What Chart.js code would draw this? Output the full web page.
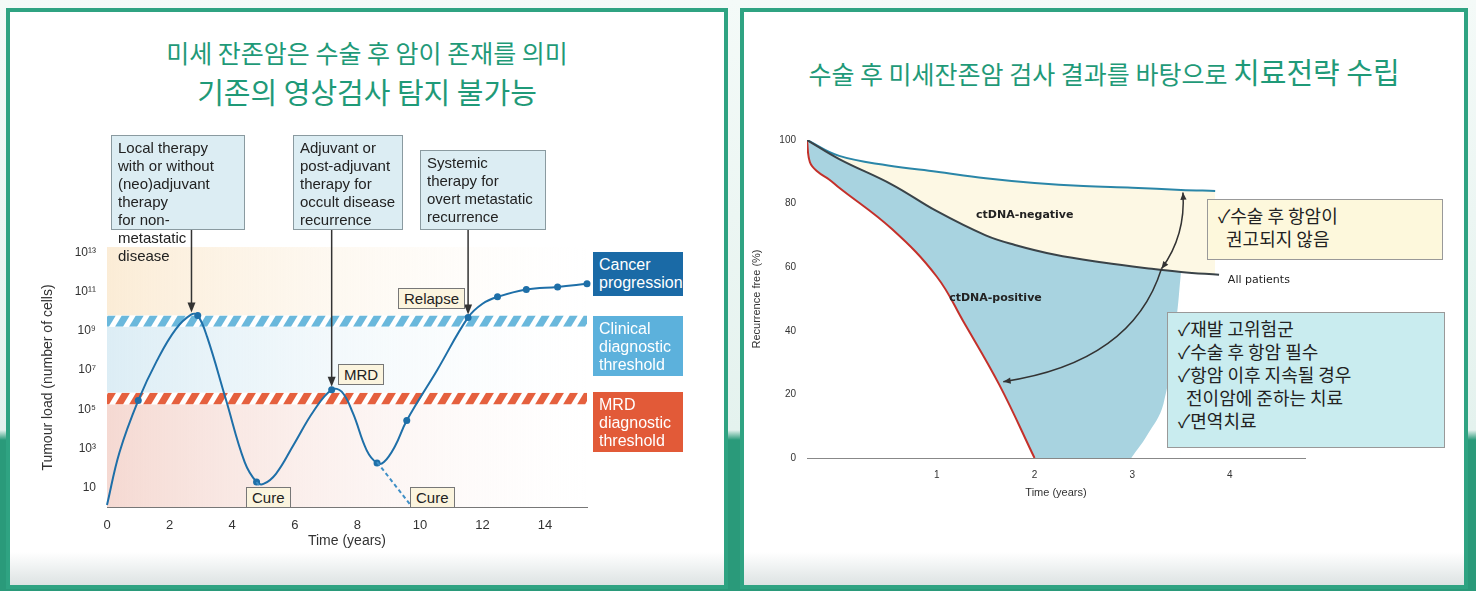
<!DOCTYPE html>
<html><head><meta charset="utf-8">
<script src="https://cdn.jsdelivr.net/npm/chart.js@4"></script>
<style>
body{margin:0;width:1476px;height:591px;position:relative;overflow:hidden;font-family:"Liberation Sans Narrow","Liberation Sans",Arial,sans-serif;
 background:linear-gradient(#f4faf8 0,#e4f2ee 430px,#2a9a7a 440px,#2a9a7a 591px);}
.panel{position:absolute;top:8px;height:573px;border:4px solid #2fa382;background:linear-gradient(#fff 0,#fff 540px,#dde3e3 573px);}
.title{position:absolute;color:#1f9a78;font-family:"Noto Sans CJK KR";text-align:center;white-space:nowrap}
.box{position:absolute;border:1px solid #8a9aa0;background:#dcedf3;font-size:15px;line-height:18px;color:#222;padding:3px 6px;box-sizing:border-box}
.lab{position:absolute;border:1px solid #777;background:#fbf4de;font-size:15px;color:#222;padding:1px 5px;box-sizing:border-box}
.side{position:absolute;color:#fff;font-size:16px;line-height:18px;padding:4px 6px;box-sizing:border-box}
.kbox{position:absolute;border:1px solid #999;font-family:"Noto Sans CJK KR";font-size:18px;line-height:23px;color:#222;box-sizing:border-box;padding:4px 10px}
canvas{position:absolute}
</style></head><body>
<div class="panel" style="left:6px;width:714px"></div>
<div class="panel" style="left:740px;width:720px"></div>
<div class="title" style="left:6px;width:722px;top:34px;font-size:25px">미세 잔존암은 수술 후 암이 존재를 의미</div>
<div class="title" style="left:6px;width:722px;top:70px;font-size:29px">기존의 영상검사 탐지 불가능</div>
<div class="title" style="left:740px;width:728px;top:50px;font-size:25px">수술 후 미세잔존암 검사 결과를 바탕으로 <span style="font-size:29px">치료전략 수립</span></div>

<canvas id="c1" width="660" height="440" style="left:40px;top:130px;width:660px;height:440px"></canvas>
<canvas id="c2" width="560" height="380" style="left:750px;top:120px;width:560px;height:380px"></canvas>

<div class="box" style="left:111px;top:135px;width:134px;height:95px">Local therapy<br>with or without<br>(neo)adjuvant therapy<br>for non-metastatic<br>disease</div>
<div class="box" style="left:293px;top:135px;width:110px;height:95px">Adjuvant or<br>post-adjuvant<br>therapy for<br>occult disease<br>recurrence</div>
<div class="box" style="left:420px;top:150px;width:126px;height:80px">Systemic<br>therapy for<br>overt metastatic<br>recurrence</div>
<div class="lab" style="left:398px;top:288px">Relapse</div>
<div class="lab" style="left:338px;top:364px">MRD</div>
<div class="lab" style="left:246px;top:487px">Cure</div>
<div class="lab" style="left:410px;top:487px">Cure</div>
<div class="side" style="left:593px;top:252px;width:90px;height:44px;background:#1a6aa6">Cancer<br>progression</div>
<div class="side" style="left:593px;top:316px;width:90px;height:60px;background:#5cb1dc">Clinical<br>diagnostic<br>threshold</div>
<div class="side" style="left:593px;top:392px;width:90px;height:60px;background:#e25a38">MRD<br>diagnostic<br>threshold</div>

<div class="kbox" style="left:1207px;top:199px;width:236px;height:61px;background:#fdf8dc">✓수술 후 항암이<br>&nbsp;&nbsp;권고되지 않음</div>
<div class="kbox" style="left:1167px;top:312px;width:278px;height:136px;background:#c9ecef">✓재발 고위험군<br>✓수술 후 항암 필수<br>✓항암 이후 지속될 경우<br>&nbsp;&nbsp;전이암에 준하는 치료<br>✓면역치료</div>

<script>
// left chart: tumour load (log10 cells) over time
const loadTime = [0, 0.4, 1.0, 1.6, 2.2, 2.7, 2.9, 3.2, 3.8, 4.4, 4.78, 5.0, 5.4, 5.97, 6.6, 7.18, 7.5, 7.86, 8.3, 8.63, 8.85, 9.2, 9.58, 10.55, 11.54, 12.0, 12.48, 13.4, 14.4, 15.34];
const loadLog  = [0.1, 2.8, 5.45, 7.5, 9.1, 9.85, 9.8, 8.7, 5.5, 2.3, 1.28, 1.18, 1.7, 3.2, 4.9, 6.0, 5.9, 4.8, 2.9, 2.25, 2.3, 3.1, 4.43, 7.0, 9.7, 10.4, 10.75, 11.13, 11.26, 11.42];
const markerIdx = [2, 6, 10, 15, 19, 22, 24, 26, 27, 28, 29];
const cure1 = [[4.78, 1.28], [5.3, 0.1]];
const cure2 = [[8.63, 2.3], [9.7, 0.1]];
const xTicks = [0, 2, 4, 6, 8, 10, 12, 14];
const yTicksLog = [1, 3, 5, 7, 9, 11, 13];
const sup = {0:'⁰',1:'¹',2:'²',3:'³',4:'⁴',5:'⁵',6:'⁶',7:'⁷',8:'⁸',9:'⁹'};

// right chart: recurrence free (%)
const negT = [-0.33, 0, 0.5, 1, 1.5, 2, 2.5, 3, 3.5, 3.85];
const negV = [100, 95, 92, 90, 88, 86.5, 85.5, 85, 84.3, 84];
const allT = [-0.33, 0, 0.54, 1, 1.5, 1.8, 2.2, 2.7, 3.2, 3.5, 3.89];
const allV = [100, 94, 86, 77.6, 70, 67, 64, 61.5, 59.5, 58.5, 57.6];
const posT = [-0.33, -0.3, -0.22, -0.1, 0, 0.54, 1, 1.27, 1.64, 2];
const posV = [100, 93, 90, 87.5, 85, 72, 57, 43, 23, 0];
const edgeT = [2.99, 3.15, 3.32, 3.45, 3.5];
const edgeV = [0, 7, 17, 43, 58.5];

const lineBlue = '#1e6fa8';
const xy = (t, v) => t.map((x, i) => ({x, y: v[i]}));

const bgPlugin = {
  id: 'bgPlugin',
  beforeDatasetsDraw(chart) {
    const {ctx, chartArea: a, scales: {y}} = chart;
    const band = (lo, hi, col) => {
      const g = ctx.createLinearGradient(a.left, 0, a.right, 0);
      g.addColorStop(0, col); g.addColorStop(1, 'rgba(255,255,255,0.3)');
      ctx.fillStyle = g;
      ctx.fillRect(a.left, y.getPixelForValue(hi), a.right - a.left, y.getPixelForValue(lo) - y.getPixelForValue(hi));
    };
    ctx.save();
    band(9.8, 13.3, '#fbecd6');
    band(5.85, 9.22, '#dcedf5');
    band(0, 5.25, '#f5d9d2');
    const hatch = (lo, hi, col) => {
      const t = y.getPixelForValue(hi), b = y.getPixelForValue(lo);
      ctx.save();
      ctx.beginPath(); ctx.rect(a.left, t, a.right - a.left, b - t); ctx.clip();
      ctx.fillStyle = '#fff'; ctx.fillRect(a.left, t, a.right - a.left, b - t);
      ctx.fillStyle = col;
      for (let x = a.left - 20; x < a.right + 20; x += 14) {
        ctx.beginPath();
        ctx.moveTo(x, b); ctx.lineTo(x + 8, b); ctx.lineTo(x + 8 + (b - t) * 0.6, t); ctx.lineTo(x + (b - t) * 0.6, t);
        ctx.fill();
      }
      ctx.restore();
    };
    hatch(9.22, 9.8, '#6ab8dc');
    hatch(5.25, 5.85, '#e5603e');
    ctx.restore();
  },
  afterDatasetsDraw(chart) {
    const {ctx, scales: {x, y}} = chart;
    ctx.save();
    ctx.strokeStyle = '#333'; ctx.fillStyle = '#333'; ctx.lineWidth = 1.5;
    [[2.7, 9.95, 100], [7.18, 6.15, 100], [11.54, 9.85, 100]].forEach(([t, v, top]) => {
      const px = x.getPixelForValue(t), py = y.getPixelForValue(v);
      ctx.beginPath(); ctx.moveTo(px, top); ctx.lineTo(px, py - 6); ctx.stroke();
      ctx.beginPath(); ctx.moveTo(px - 4, py - 10); ctx.lineTo(px + 4, py - 10); ctx.lineTo(px, py); ctx.fill();
    });
    ctx.restore();
  }
};

new Chart(document.getElementById('c1'), {
  type: 'line',
  data: { datasets: [
    { data: cure1.map(([x, y]) => ({x, y})), borderColor: '#3f8fc6', borderDash: [4, 3], borderWidth: 2, pointRadius: 0, clip: false },
    { data: cure2.map(([x, y]) => ({x, y})), borderColor: '#3f8fc6', borderDash: [4, 3], borderWidth: 2, pointRadius: 0, clip: false },
    { data: xy(loadTime, loadLog), borderColor: lineBlue, borderWidth: 2, tension: 0.4,
      pointRadius: loadTime.map((_, i) => markerIdx.includes(i) ? 3.5 : 0), pointBackgroundColor: lineBlue, pointBorderWidth: 0, clip: false }
  ]},
  options: {
    responsive: false, animation: false,
    layout: { padding: { top: 118, right: 113, left: 0, bottom: 20 } },
    plugins: { legend: { display: false }, tooltip: { enabled: false } },
    scales: {
      x: { type: 'linear', min: 0, max: 15.34, grid: { display: false },
        border: { color: '#777' },
        afterBuildTicks: s => { s.ticks = xTicks.map(v => ({value: v})); },
        ticks: { color: '#333', font: { size: 13 } },
        title: { display: true, text: 'Time (years)', color: '#333', font: { size: 14 }, padding: 0 },
        afterFit: s => { s.height = 43; } },
      y: { min: 0, max: 13.25, grid: { display: false }, border: { display: false },
        afterBuildTicks: s => { s.ticks = yTicksLog.map(v => ({value: v})); },
        ticks: { color: '#333', font: { size: 12 },
          callback: v => v === 1 ? '10' : '10' + String(v).split('').map(c => sup[c]).join('') },
        title: { display: true, text: 'Tumour load (number of cells)', color: '#333', font: { size: 14 }, padding: 0 },
        afterFit: s => { s.width = 67; } }
    }
  },
  plugins: [bgPlugin]
});

const arrowPlugin = {
  id: 'arrowPlugin',
  afterDatasetsDraw(chart) {
    const {ctx, scales: {x, y}} = chart;
    const P = (t, v) => [x.getPixelForValue(t), y.getPixelForValue(v)];
    const head = (fx, fy, tx, ty) => {
      const ang = Math.atan2(ty - fy, tx - fx);
      ctx.beginPath(); ctx.moveTo(tx, ty);
      ctx.lineTo(tx - 8 * Math.cos(ang - 0.4), ty - 8 * Math.sin(ang - 0.4));
      ctx.lineTo(tx - 8 * Math.cos(ang + 0.4), ty - 8 * Math.sin(ang + 0.4)); ctx.fill();
    };
    ctx.save();
    ctx.strokeStyle = '#333'; ctx.fillStyle = '#333'; ctx.lineWidth = 1.5;
    const [ax, ay] = P(3.52, 83.5), [bx, by] = P(3.3, 59.5), [cx, cy] = P(1.68, 24);
    const [m1x, m1y] = P(3.55, 70), [m2x, m2y] = P(3.0, 30);
    ctx.beginPath(); ctx.moveTo(ax, ay); ctx.quadraticCurveTo(m1x, m1y, bx, by); ctx.stroke();
    head(m1x, m1y, ax, ay); head(m1x, m1y, bx, by);
    ctx.beginPath(); ctx.moveTo(bx, by); ctx.quadraticCurveTo(m2x, m2y, cx, cy); ctx.stroke();
    head(m2x, m2y, cx, cy);
    ctx.fillStyle = '#222'; ctx.font = 'bold 11px "DejaVu Sans"'; ctx.textAlign = 'center';
    ctx.fillText('ctDNA-negative', ...P(1.9, 75.5));
    ctx.fillText('ctDNA-positive', ...P(1.6, 49.5));
    ctx.font = '11px "DejaVu Sans"'; ctx.textAlign = 'left';
    ctx.fillText('All patients', ...P(3.98, 55));
    ctx.restore();
  }
};

new Chart(document.getElementById('c2'), {
  type: 'line',
  data: { datasets: [
    { label: 'negative', data: xy(negT, negV), borderColor: '#2a86a8', borderWidth: 2, pointRadius: 0, tension: 0.4,
      fill: { target: 1 }, backgroundColor: '#fdf8e4', order: 3 },
    { label: 'all', data: xy(allT, allV), borderColor: '#3a4348', borderWidth: 2, pointRadius: 0, tension: 0.4, fill: false, order: 1 },
    { label: 'positiveRegion', data: xy(allT.slice(0, 10), allV.slice(0, 10)),
      borderWidth: 0, pointRadius: 0, tension: 0.4, fill: 'origin', backgroundColor: '#a8d3e0', order: 6 },
    { label: 'edge', data: xy(edgeT, edgeV), borderWidth: 0, pointRadius: 0, tension: 0.4,
      fill: 'origin', backgroundColor: '#ffffff', order: 5 },
    { label: 'positive', data: xy(posT, posV), borderColor: '#c4302a', borderWidth: 2, pointRadius: 0, tension: 0.4,
      fill: 'origin', backgroundColor: '#ffffff', order: 2 }
  ]},
  options: {
    responsive: false, animation: false,
    layout: { padding: { top: 20, right: 5, left: 0, bottom: 0 } },
    plugins: { legend: { display: false }, tooltip: { enabled: false }, filler: { drawTime: 'beforeDatasetDraw' } },
    scales: {
      x: { type: 'linear', min: -0.33, max: 4.77, grid: { display: false }, border: { color: '#888' },
        afterBuildTicks: s => { s.ticks = [1, 2, 3, 4].map(v => ({value: v})); },
        ticks: { color: '#333', font: { size: 10 } },
        title: { display: true, text: 'Time (years)', color: '#333', font: { size: 11 }, padding: 0 },
        afterFit: s => { s.height = 42; } },
      y: { min: 0, max: 100, grid: { display: false }, border: { color: '#888' },
        ticks: { stepSize: 20, color: '#333', font: { size: 10 } },
        title: { display: true, text: 'Recurrence free (%)', color: '#333', font: { size: 11 }, padding: 0 },
        afterFit: s => { s.width = 57; } }
    }
  },
  plugins: [arrowPlugin]
});
</script>
</body></html>
